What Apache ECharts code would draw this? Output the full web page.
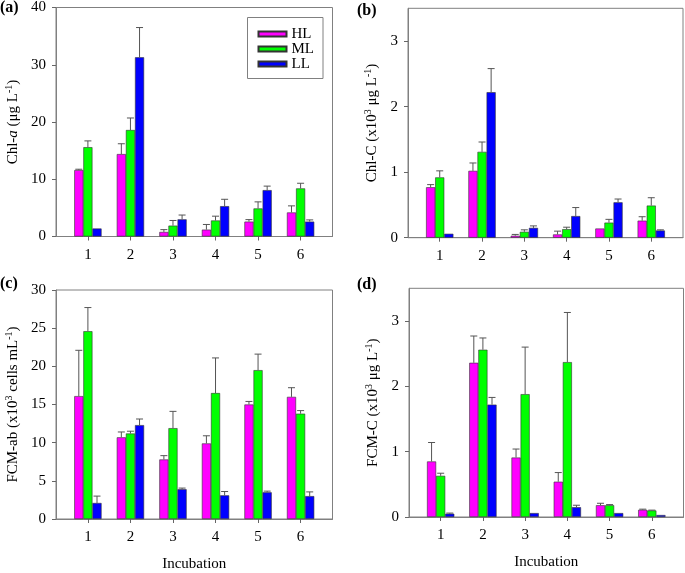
<!DOCTYPE html>
<html><head><meta charset="utf-8">
<script src="https://cdn.jsdelivr.net/npm/echarts@6/dist/echarts.min.js"></script>
<style>html,body{margin:0;padding:0;background:#fff}#c{width:685px;height:573px}</style>
</head><body><div id="c"></div>
<script>
// ---- data ----
const incubation = [1, 2, 3, 4, 5, 6];
const levels = ['HL', 'ML', 'LL'];

// (a) Chl-a (ug/L)
const aHL = [11.6, 14.4, 0.8, 1.2, 2.6, 4.2];
const aHLsd = [0.15, 1.8, 0.4, 0.9, 0.35, 1.15];
const aML = [15.6, 18.6, 1.9, 2.8, 4.9, 8.4];
const aMLsd = [1.1, 2.1, 0.9, 0.75, 1.15, 0.9];
const aLL = [1.4, 31.3, 3.0, 5.3, 8.1, 2.6];
const aLLsd = [0, 5.2, 0.75, 1.2, 0.7, 0.3];

// (b) Chl-C (x10^3 ug/L)
const bHL = [0.77, 1.02, 0.03, 0.05, 0.14, 0.26];
const bHLsd = [0.04, 0.12, 0.02, 0.05, 0, 0.06];
const bML = [0.92, 1.31, 0.09, 0.13, 0.23, 0.49];
const bMLsd = [0.10, 0.15, 0.03, 0.03, 0.05, 0.12];
const bLL = [0.06, 2.22, 0.15, 0.33, 0.54, 0.11];
const bLLsd = [0, 0.36, 0.03, 0.13, 0.05, 0.01];

// (c) FCM-ab (x10^3 cells/mL)
const cHL = [16.1, 10.7, 7.8, 9.9, 15.0, 16.0];
const cHLsd = [6.0, 0.7, 0.5, 1.0, 0.4, 1.2];
const cML = [24.6, 11.2, 11.9, 16.5, 19.5, 13.8];
const cMLsd = [3.1, 0.3, 2.2, 4.6, 2.1, 0.4];
const cLL = [2.1, 12.3, 3.9, 3.1, 3.5, 3.0];
const cLLsd = [0.9, 0.8, 0.15, 0.5, 0.15, 0.55];

// (d) FCM-C (x10^3 ug/L)
const dHL = [0.85, 2.36, 0.91, 0.54, 0.18, 0.11];
const dHLsd = [0.29, 0.41, 0.13, 0.14, 0.03, 0.01];
const dML = [0.63, 2.56, 1.88, 2.37, 0.18, 0.10];
const dMLsd = [0.04, 0.18, 0.72, 0.76, 0.01, 0.005];
const dLL = [0.05, 1.72, 0.06, 0.15, 0.06, 0.03];
const dLLsd = [0.01, 0.11, 0, 0.03, 0, 0];

const yTicksA = [0, 10, 20, 30, 40];
const yTicksB = [0, 1, 2, 3];
const yTicksC = [0, 5, 10, 15, 20, 25, 30];
const yTicksD = [0, 1, 2, 3];
const panelLabels = ['(a)', '(b)', '(c)', '(d)'];

// ---- layout / style ----
const FONT = '"Liberation Serif", "Times New Roman", serif';
const FRAME = '#808080';
const COLORS = ['#ff00ff', '#00ff00', '#0000ff'];
const BW = 9.1;

const panels = [
  { vals: [aHL, aML, aLL], sds: [aHLsd, aMLsd, aLLsd], max: 40, ticks: yTicksA,
    grid: { left: 56, top: 7.5, width: 276.5, height: 229 }, nameGap: 34,
    name: '{t|Chl-}{i|a}{t| (μg L}{s|-1}{t|)}', xname: '' },
  { vals: [bHL, bML, bLL], sds: [bHLsd, bMLsd, bLLsd], max: 3.5, ticks: yTicksB,
    grid: { left: 408, top: 8.3, width: 275, height: 229.4 }, nameGap: 27,
    name: '{t|Chl-C (x10}{s|3}{t| μg L}{s|-1}{t|)}', xname: '' },
  { vals: [cHL, cML, cLL], sds: [cHLsd, cMLsd, cLLsd], max: 30, ticks: yTicksC,
    grid: { left: 56, top: 290, width: 276.5, height: 229.3 }, nameGap: 34,
    name: '{t|FCM-ab (x10}{s|3}{t| cells mL}{s|-1}{t|)}', xname: 'Incubation' },
  { vals: [dHL, dML, dLL], sds: [dHLsd, dMLsd, dLLsd], max: 3.5, ticks: yTicksD,
    grid: { left: 409, top: 288.3, width: 274.5, height: 228.7 }, nameGap: 27,
    name: '{t|FCM-C (x10}{s|3}{t| μg L}{s|-1}{t|)}', xname: 'Incubation' }
];

const rich = {
  t: { fontSize: 15, fontFamily: FONT, color: '#000', lineHeight: 18 },
  i: { fontSize: 15, fontFamily: FONT, fontStyle: 'italic', color: '#000', lineHeight: 18 },
  s: { fontSize: 10, fontFamily: FONT, color: '#000', verticalAlign: 'top', lineHeight: 10 }
};

const grid = [], xAxis = [], yAxis = [], series = [];
panels.forEach((p, i) => {
  grid.push(Object.assign({ show: true, borderColor: FRAME, borderWidth: 1, backgroundColor: 'transparent' }, p.grid));
  xAxis.push({
    gridIndex: i, type: 'value', min: 0.25, max: 6.75,
    axisLine: { show: true, onZero: false, lineStyle: { color: FRAME, width: 1 } },
    axisTick: { show: true, customValues: incubation, length: 4, lineStyle: { color: '#666' } },
    axisLabel: { customValues: incubation, margin: 11, fontSize: 15, fontFamily: FONT, color: '#000' },
    splitLine: { show: false },
    name: p.xname, nameLocation: 'middle', nameGap: 38,
    nameTextStyle: { fontSize: 15, fontFamily: FONT, color: '#000' }
  });
  yAxis.push({
    gridIndex: i, type: 'value', min: 0, max: p.max,
    axisLine: { show: true, onZero: false, lineStyle: { color: FRAME, width: 1 } },
    axisTick: { show: true, customValues: p.ticks, length: 4, lineStyle: { color: '#666' } },
    axisLabel: { customValues: p.ticks, margin: 10, fontSize: 15, fontFamily: FONT, color: '#000' },
    splitLine: { show: false },
    name: p.name, nameLocation: 'middle', nameRotate: 90, nameGap: p.nameGap,
    nameTextStyle: { rich: rich }
  });
  const errData = [];
  p.vals.forEach((vals, k) => {
    series.push({
      type: 'bar', name: levels[k], xAxisIndex: i, yAxisIndex: i,
      data: incubation.map((x, j) => [x, vals[j]]),
      barWidth: BW, barGap: '0%',
      itemStyle: { color: COLORS[k], borderColor: '#333', borderWidth: 0.6 },
      emphasis: { disabled: true }
    });
    incubation.forEach((x, j) => errData.push([x, vals[j], p.sds[k][j], k]));
  });
  series.push({
    type: 'custom', xAxisIndex: i, yAxisIndex: i, z: 5,
    data: errData, encode: { x: 0, y: 1 },
    renderItem: function (params, api) {
      const x = api.value(0), v = api.value(1), e = api.value(2), k = api.value(3);
      if (!(e > 0)) return null;
      const b = api.coord([x, v]);
      const t = api.coord([x, v + e]);
      const px = b[0] + (k - 1) * BW;
      const st = { stroke: '#555', lineWidth: 1 };
      return {
        type: 'group', children: [
          { type: 'line', shape: { x1: px, y1: b[1], x2: px, y2: t[1] }, style: st },
          { type: 'line', shape: { x1: px - 3.5, y1: t[1], x2: px + 3.5, y2: t[1] }, style: st }
        ]
      };
    }
  });
});

const titlePos = [[0, 0], [357, 3], [0, 276], [357, 277]];
const title = panelLabels.map((t, i) => ({
  text: t, left: titlePos[i][0], top: titlePos[i][1], padding: 0,
  textStyle: { fontSize: 16, fontWeight: 'bold', fontFamily: FONT, color: '#000' }
}));

const option = {
  animation: false,
  textStyle: { fontFamily: FONT },
  title: title,
  legend: {
    data: levels, orient: 'vertical', left: 247.5, top: 17.5,
    padding: [9, 9, 7, 10], itemWidth: 28, itemHeight: 5, itemGap: 0,
    borderColor: FRAME, borderWidth: 1, icon: 'rect', selectedMode: false,
    textStyle: { fontSize: 15, fontFamily: FONT, color: '#000', lineHeight: 14.5 }
  },
  grid: grid, xAxis: xAxis, yAxis: yAxis, series: series
};

const chart = echarts.init(document.getElementById('c'), null, { renderer: 'canvas' });
chart.setOption(option);
</script></body></html>
